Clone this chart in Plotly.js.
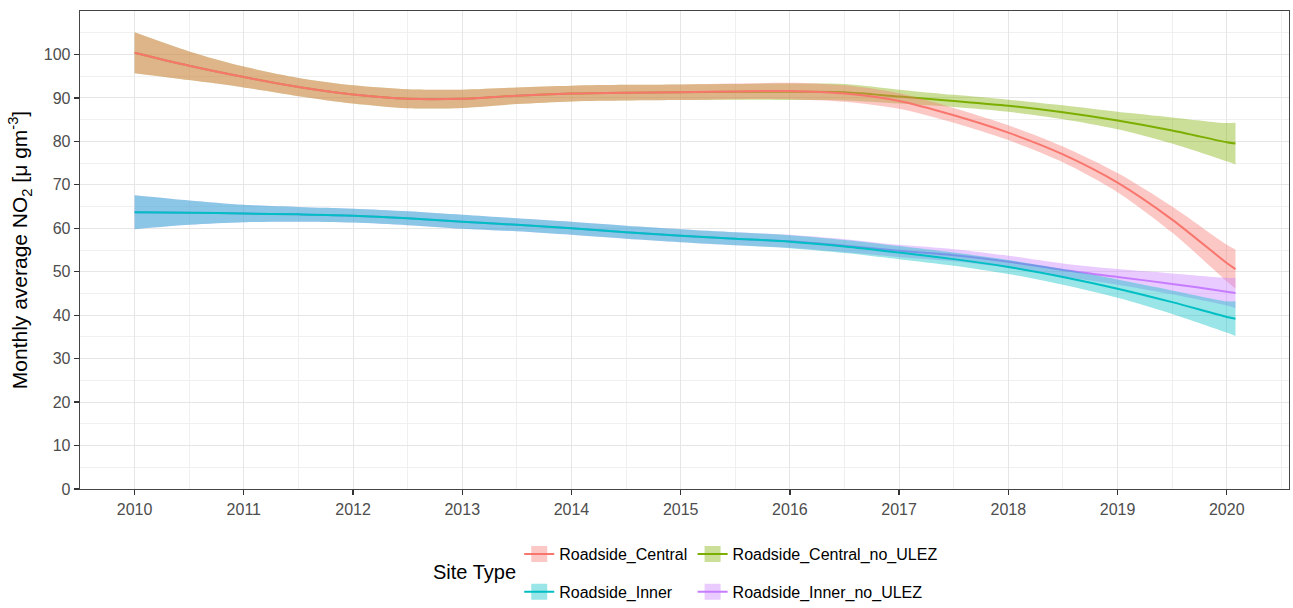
<!DOCTYPE html>
<html>
<head>
<meta charset="utf-8">
<script src="https://cdn.plot.ly/plotly-3.0.1.min.js"></script>
<style>
  html, body { margin: 0; padding: 0; background: #ffffff; }
  #chart { width: 1293px; height: 608px; }
</style>
</head>
<body>
<div id="chart"></div>
<script>
// ---- data (fitted smooth + confidence band) ----
const years = [2010, 2010.5, 2011, 2011.5, 2012, 2012.5, 2013, 2013.5, 2014, 2014.5, 2015, 2015.5, 2016, 2016.5, 2017, 2017.5, 2018, 2018.5, 2019, 2019.5, 2020, 2020.08];

const seriesNames = ["Roadside_Central", "Roadside_Central_no_ULEZ", "Roadside_Inner", "Roadside_Inner_no_ULEZ"];
const seriesColors = ["#F8766D", "#7CAE00", "#00BFC4", "#C77CFF"];

const centralFit   = [100.4, 97.4, 94.8, 92.5, 90.8, 89.8, 89.8, 90.5, 91.0, 91.2, 91.3, 91.5, 91.6, 91.0, 89.3, 86.0, 82.0, 77.0, 70.5, 62.0, 52.0, 50.6];
const centralUpper = [105.1, 100.7, 97.2, 94.6, 92.9, 92.0, 91.9, 92.4, 92.8, 93.0, 93.1, 93.3, 93.5, 92.9, 91.1, 87.7, 83.7, 78.8, 72.7, 65.0, 56.2, 55.1];
const centralLower = [95.7, 94.1, 92.4, 90.4, 88.7, 87.6, 87.7, 88.6, 89.2, 89.4, 89.5, 89.7, 89.7, 89.1, 87.5, 84.3, 80.3, 75.2, 68.3, 59.0, 47.8, 46.1];

const centralNoUlezFit   = [100.4, 97.4, 94.8, 92.5, 90.8, 89.8, 89.8, 90.5, 91.0, 91.2, 91.3, 91.4, 91.4, 91.3, 90.3, 89.3, 88.2, 86.7, 84.8, 82.5, 79.8, 79.5];
const centralNoUlezUpper = [105.1, 100.7, 97.2, 94.6, 92.9, 92.0, 91.9, 92.4, 92.8, 93.0, 93.1, 93.2, 93.3, 93.2, 91.9, 90.7, 89.6, 88.3, 86.8, 85.5, 84.2, 84.3];
const centralNoUlezLower = [95.7, 94.1, 92.4, 90.4, 88.7, 87.6, 87.7, 88.6, 89.2, 89.4, 89.5, 89.6, 89.5, 89.4, 88.7, 87.9, 86.8, 85.1, 82.8, 79.5, 75.4, 74.7];

const innerFit   = [63.7, 63.6, 63.4, 63.2, 62.9, 62.3, 61.5, 60.8, 60.0, 59.1, 58.3, 57.6, 56.9, 55.8, 54.4, 52.9, 51.1, 48.8, 46.1, 43.0, 39.6, 39.2];
const innerUpper = [67.6, 66.4, 65.4, 64.9, 64.5, 63.9, 63.1, 62.3, 61.5, 60.6, 59.8, 59.1, 58.4, 57.3, 55.9, 54.4, 52.7, 50.6, 48.2, 45.7, 43.2, 43.2];
const innerLower = [59.8, 60.8, 61.4, 61.5, 61.3, 60.7, 59.9, 59.3, 58.5, 57.6, 56.8, 56.1, 55.4, 54.3, 52.9, 51.4, 49.5, 47.0, 44.0, 40.3, 36.0, 35.2];

const innerNoUlezFit   = [63.7, 63.6, 63.4, 63.2, 62.9, 62.3, 61.5, 60.8, 60.0, 59.1, 58.3, 57.6, 57.0, 56.0, 54.8, 53.8, 52.3, 50.4, 48.8, 47.2, 45.4, 45.1];
const innerNoUlezUpper = [67.6, 66.4, 65.4, 64.9, 64.5, 63.9, 63.1, 62.3, 61.5, 60.6, 59.8, 59.1, 58.5, 57.5, 56.2, 55.2, 53.7, 51.9, 50.6, 49.6, 48.6, 48.6];
const innerNoUlezLower = [59.8, 60.8, 61.4, 61.5, 61.3, 60.7, 59.9, 59.3, 58.5, 57.6, 56.8, 56.1, 55.5, 54.5, 53.4, 52.4, 50.9, 48.9, 47.0, 44.8, 42.2, 41.6];

const xTickLabels = ["2010", "2011", "2012", "2013", "2014", "2015", "2016", "2017", "2018", "2019", "2020"];
const yTickValues = [0, 10, 20, 30, 40, 50, 60, 70, 80, 90, 100];

// ---- build traces ----
const fits = [centralFit, centralNoUlezFit, innerFit, innerNoUlezFit];
const uppers = [centralUpper, centralNoUlezUpper, innerUpper, innerNoUlezUpper];
const lowers = [centralLower, centralNoUlezLower, innerLower, innerNoUlezLower];

function rgba(hex, a) {
  const n = parseInt(hex.slice(1), 16);
  return "rgba(" + ((n >> 16) & 255) + "," + ((n >> 8) & 255) + "," + (n & 255) + "," + a + ")";
}

// draw order: the no_ULEZ series first, so the base series sits on top where they overlap
const drawOrder = [1, 0, 3, 2];
const traces = [];
drawOrder.forEach(function (i) {
  const name = seriesNames[i];
  const col = seriesColors[i];
  traces.push({
    x: years, y: lowers[i], type: "scatter", mode: "lines",
    line: { width: 0, shape: "spline", smoothing: 0.8 },
    showlegend: false, hoverinfo: "skip", legendgroup: name
  });
  traces.push({
    x: years, y: uppers[i], type: "scatter", mode: "lines",
    line: { width: 0, shape: "spline", smoothing: 0.8 },
    fill: "tonexty", fillcolor: rgba(col, 0.4),
    showlegend: false, hoverinfo: "skip", legendgroup: name
  });
  traces.push({
    x: years, y: fits[i], type: "scatter", mode: "lines",
    line: { width: 2, color: col, shape: "spline", smoothing: 0.8 },
    showlegend: false, name: name, legendgroup: name
  });
});
// legend keys (ggplot-style filled square with line)
seriesNames.forEach(function (name, i) {
  const col = seriesColors[i];
  traces.push({
    x: [null], y: [null], type: "scatter", mode: "lines+markers",
    name: name, legendgroup: name,
    legend: (i % 2 === 0) ? "legend" : "legend2",
    line: { width: 2, color: col },
    marker: { symbol: "square", size: 16, color: rgba(col, 0.4), line: { width: 0 } },
    showlegend: true
  });
});

const gridMajor = "#E6E6E6";
const gridMinor = "#F0F0F0";
const font = "Liberation Sans, Arial, sans-serif";

const layout = {
  width: 1293, height: 608,
  paper_bgcolor: "#ffffff", plot_bgcolor: "#ffffff",
  margin: { l: 80, r: 4, t: 11, b: 119, autoexpand: false },
  font: { family: font, size: 16, color: "#000000" },
  showlegend: true,
  xaxis: {
    range: [2009.5, 2020.57],
    tickmode: "array",
    tickvals: xTickLabels.map(Number),
    ticktext: xTickLabels,
    tickfont: { family: font, size: 16, color: "#4D4D4D" },
    ticks: "outside", ticklen: 5, tickwidth: 1.3, tickcolor: "#333333",
    showgrid: true, gridcolor: gridMajor, gridwidth: 1,
    minor: { tickmode: "array", tickvals: xTickLabels.map(function (v) { return Number(v) + 0.5; }),
             showgrid: true, gridcolor: gridMinor, gridwidth: 1, ticks: "" },
    showline: true, linecolor: "#444444", linewidth: 1.3, mirror: true,
    zeroline: false, fixedrange: true
  },
  yaxis: {
    range: [0, 110],
    tickmode: "array",
    tickvals: yTickValues,
    ticktext: yTickValues.map(String),
    tickfont: { family: font, size: 16, color: "#4D4D4D" },
    ticks: "outside", ticklen: 5, tickwidth: 1.3, tickcolor: "#333333",
    showgrid: true, gridcolor: gridMajor, gridwidth: 1,
    minor: { tickmode: "array", tickvals: yTickValues.map(function (v) { return v + 5; }),
             showgrid: true, gridcolor: gridMinor, gridwidth: 1, ticks: "" },
    showline: true, linecolor: "#444444", linewidth: 1.3, mirror: true,
    zeroline: false, fixedrange: true,
    title: { text: "Monthly average NO<sub>2</sub> [μ gm<sup>-3</sup>]", font: { family: font, size: 21, color: "#000000" }, standoff: 10 }
  },
  legend: {
    x: 0.3633, y: -0.1004, xanchor: "left", yanchor: "top",
    orientation: "v", bgcolor: "rgba(0,0,0,0)", tracegroupgap: 14,
    font: { family: font, size: 16, color: "#000000" }
  },
  legend2: {
    x: 0.5067, y: -0.1004, xanchor: "left", yanchor: "top",
    orientation: "v", bgcolor: "rgba(0,0,0,0)", tracegroupgap: 14,
    font: { family: font, size: 16, color: "#000000" }
  },
  annotations: [{
    text: "Site Type", xref: "paper", yref: "paper",
    x: 0.3267, y: -0.1736, xanchor: "center", yanchor: "middle",
    showarrow: false, font: { family: font, size: 20, color: "#000000" }
  }]
};

Plotly.newPlot("chart", traces, layout, { displayModeBar: false, staticPlot: true });
</script>
</body>
</html>
